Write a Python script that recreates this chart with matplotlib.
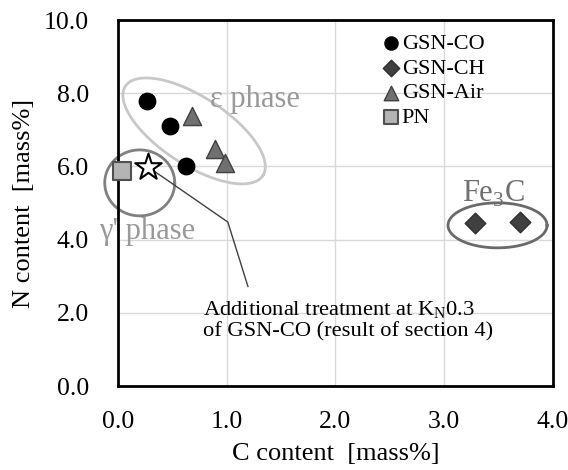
import numpy as np
import matplotlib
matplotlib.use("Agg")
import matplotlib.pyplot as plt

plt.rcParams['font.family'] = ['Liberation Serif', 'DejaVu Serif']
plt.rcParams['mathtext.fontset'] = 'custom'
plt.rcParams['mathtext.rm'] = 'Liberation Serif'

# data (C content, N content) in mass%
co_c = [0.27, 0.48, 0.63]
co_n = [7.80, 7.10, 6.02]
ch_c = [3.28, 3.70]
ch_n = [4.45, 4.48]
air_c = [0.68, 0.89, 0.98]
air_n = [7.38, 6.48, 6.09]
pn_c = [0.04]
pn_n = [5.87]
add_c = [0.28]
add_n = [5.98]

x_ticks = [0, 1, 2, 3, 4]
y_ticks = [0, 2, 4, 6, 8, 10]

fig = plt.figure(figsize=(5.68, 4.70), dpi=100)
ax = fig.add_axes([0.2077, 0.1787, 0.7659, 0.7787])
ax.set_xlim(0, 4)
ax.set_ylim(0, 10)
ax.set_xticks(x_ticks)
ax.set_yticks(y_ticks)
ax.set_xticklabels(["%.1f" % v for v in x_ticks])
ax.set_yticklabels(["%.1f" % v for v in y_ticks])
ax.tick_params(axis='both', length=0, labelsize=18.5)
ax.tick_params(axis='x', pad=18)
ax.tick_params(axis='y', pad=21)
ax.grid(True, color='#d9d9d9', lw=1)
ax.set_axisbelow(True)
for sp in ax.spines.values():
    sp.set_linewidth(2)
    sp.set_color('black')

# px per data unit, for drawing ellipses round in pixel space
sx = 435 / 4.0
sy = 366 / 10.0


def draw_ellipse(cx, cy, a, b, ang, color, lw=2):
    t = np.linspace(0, 2 * np.pi, 200)
    th = np.radians(ang)
    u = a * np.cos(t)
    v = b * np.sin(t)
    dx = u * np.cos(th) - v * np.sin(th)
    dy = u * np.sin(th) + v * np.cos(th)
    ax.plot(cx + dx / sx, cy + dy / sy, color=color, lw=lw, zorder=1, clip_on=False)


draw_ellipse(0.70, 6.97, 82, 34, -33, '#c8c8c8')
draw_ellipse(0.20, 5.55, 35, 33, 0, '#808080')
draw_ellipse(3.49, 4.39, 49.5, 22.5, 0, '#6a6a6a')

# leader line from star to the note
ax.plot([add_c[0], 1.01, 1.195], [add_n[0], 4.48, 2.72], color='#404040', lw=1, zorder=2)

ax.scatter(co_c, co_n, s=140, marker='o', color='black', zorder=3, label='GSN-CO')
ax.scatter(ch_c, ch_n, s=110, marker='D', color='#404040', edgecolor='#303030', zorder=3, label='GSN-CH')
ax.scatter(air_c, air_n, s=170, marker='^', color='#707070', edgecolor='#404040', zorder=3, label='GSN-Air')
ax.scatter(pn_c, pn_n, s=170, marker='s', color='#b4b4b4', edgecolor='#505050', lw=1.5, zorder=4,
           label='PN', clip_on=False)
ax.scatter(add_c, add_n, s=400, marker='*', color='white', edgecolor='black', lw=1.5, zorder=4)

ax.text(0.845, 7.82, "ε phase", fontsize=22, color='#999999', va='center', ha='left')
ax.text(-0.17, 4.22, "γ' phase", fontsize=22, color='#999999', va='center', ha='left')
ax.text(3.16, 5.25, "Fe$_3$C", fontsize=22, color='#707070', va='center', ha='left')
ax.text(0.78, 1.8, "Additional treatment at K$_\\mathrm{N}$0.3\nof GSN-CO (result of section 4)",
        fontsize=16.2, va='center', ha='left', linespacing=1.05)

ax.legend(loc='upper left', bbox_to_anchor=(0.568, 1.005), frameon=False, fontsize=16,
          handletextpad=0.05, handlelength=0.9, labelspacing=0.18, borderpad=0.2,
          markerscale=0.8)

ax.set_xlabel("C content  [mass%]", fontsize=19)
ax.set_ylabel("N content  [mass%]", fontsize=19)
ax.xaxis.set_label_coords(0.5, -0.155)
ax.yaxis.set_label_coords(-0.19, 0.5)

fig.savefig("out.png", dpi=100)
